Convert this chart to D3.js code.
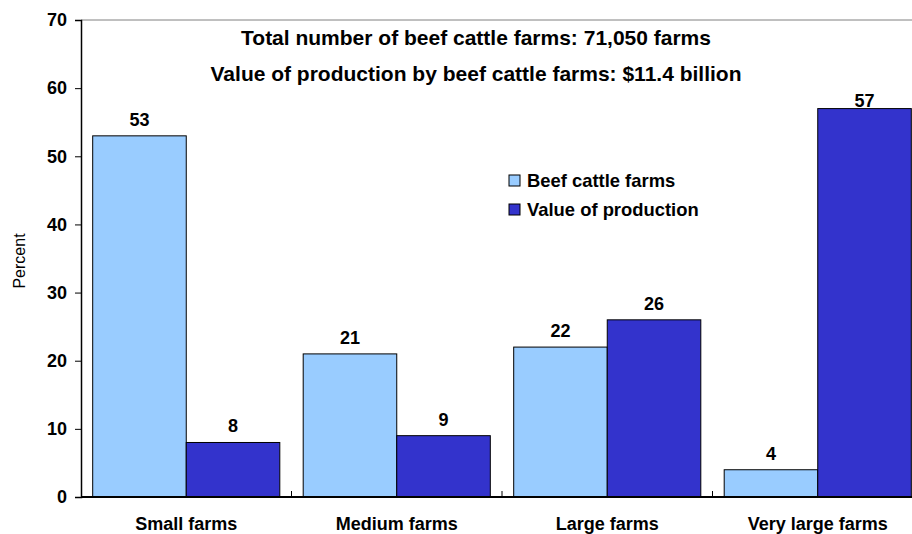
<!DOCTYPE html>
<html><head><meta charset="utf-8">
<script src="https://cdn.jsdelivr.net/npm/d3@7"></script>
<style>
body{margin:0;background:#fff;}
svg{display:block;font-family:"Liberation Sans",Arial,sans-serif;}
</style></head>
<body><svg id="c" width="912" height="534"></svg>
<script>
const categories = ["Small farms","Medium farms","Large farms","Very large farms"];
const seriesNames = ["Beef cattle farms","Value of production"];
const farmsPct = [53,21,22,4];
const valuePct = [8,9,26,57];
const yTicks = [0,10,20,30,40,50,60,70];
const titles = ["Total number of beef cattle farms: 71,050 farms","Value of production by beef cattle farms: $11.4 billion"];
const colors = ["#99CCFF","#3333CC"];

const svg = d3.select("#c");
const L = 81, T = 20, B = 497, band = 210.5;
const R = L + band*categories.length;
const x = d3.scaleBand().domain(categories).range([L,R]).paddingInner(0).paddingOuter(0);
const x1 = d3.scaleBand().domain(seriesNames).range([0,band]).paddingInner(0).paddingOuter(0.125);
const y = d3.scaleLinear().domain([0,70]).range([B,T]);

// frame
svg.append("line").attr("x1",L).attr("x2",R).attr("y1",T).attr("y2",T).attr("stroke","#808080").attr("stroke-width",1);

const data = categories.map((c,i)=>({c, vals:[farmsPct[i], valuePct[i]]}));
const g = svg.append("g");
data.forEach(d=>{
  d.vals.forEach((v,j)=>{
    const bx = x(d.c)+x1(seriesNames[j]);
    g.append("rect").attr("x",bx).attr("y",y(v)).attr("width",x1.bandwidth()).attr("height",B-y(v))
      .attr("fill",colors[j]).attr("stroke","#000").attr("stroke-width",1);
    g.append("text").attr("x",bx+x1.bandwidth()/2).attr("y",Math.max(y(v)-10,107))
      .attr("text-anchor","middle").attr("font-size",18).attr("font-weight","bold").text(v);
  });
});

// y axis
const ya = svg.append("g").attr("transform",`translate(${L},0)`)
  .call(d3.axisLeft(y).tickValues(yTicks).tickSize(6).tickPadding(8).tickFormat(d3.format("d")));
ya.select(".domain").attr("stroke","#000").attr("stroke-width",1.5);
ya.selectAll(".tick line").attr("stroke","#000");
ya.selectAll("text").attr("font-size",18).attr("font-weight","bold").attr("fill","#000").attr("font-family","Liberation Sans, Arial, sans-serif");

// x axis
const xa = svg.append("g").attr("transform",`translate(0,${B})`);
xa.append("line").attr("x1",L).attr("x2",R).attr("y1",0).attr("y2",0).attr("stroke","#000").attr("stroke-width",2);
categories.forEach((c,i)=>{
  if(i>0) xa.append("line").attr("x1",x(c)).attr("x2",x(c)).attr("y1",0).attr("y2",-6).attr("stroke","#000");
  xa.append("text").attr("x",x(c)+band/2).attr("y",33).attr("text-anchor","middle")
    .attr("font-size",18).attr("font-weight","bold").text(c);
});

// y label
svg.append("text").attr("transform","translate(25,261) rotate(-90)").attr("text-anchor","middle")
  .attr("font-size",16).text("Percent");

// titles
titles.forEach((t,i)=>{
  svg.append("text").attr("x",476).attr("y",45+i*36).attr("text-anchor","middle")
    .attr("font-size",21).attr("font-weight","bold").text(t);
});

// legend
const lg = svg.append("g").attr("transform","translate(509,175)");
seriesNames.forEach((s,i)=>{
  lg.append("rect").attr("x",0).attr("y",i*29).attr("width",11).attr("height",11).attr("fill",colors[i]).attr("stroke","#000");
  lg.append("text").attr("x",18).attr("y",i*29+12).attr("font-size",18.4).attr("font-weight","bold").text(s);
});
</script></body></html>
